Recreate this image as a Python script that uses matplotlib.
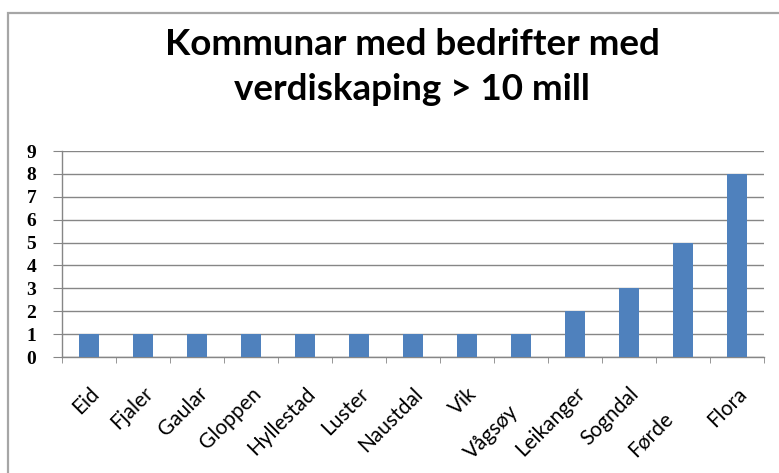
import matplotlib
matplotlib.use("Agg")
import matplotlib.pyplot as plt
import matplotlib.transforms as mtransforms
from matplotlib.patches import Rectangle
import numpy as np

# data
kommunar = ["Eid", "Fjaler", "Gaular", "Gloppen", "Hyllestad", "Luster", "Naustdal",
            "Vik", "Vågsøy", "Leikanger", "Sogndal", "Førde", "Flora"]
bedrifter = [1, 1, 1, 1, 1, 1, 1, 1, 1, 2, 3, 5, 8]
y_ticks = list(range(0, 10))
title_lines = ["Kommunar med bedrifter med", "verdiskaping > 10 mill"]

BAR_COLOR = "#4F81BD"
GRID_COLOR = "#868686"
W, H = 779, 473

fig = plt.figure(figsize=(W / 100, H / 100), dpi=100)
fig.patch.set_facecolor("white")

# outer chart frame (Excel-style)
fig.add_artist(Rectangle((8 / W, -0.05), 1.0, 1 - 13 / H + 0.05, transform=fig.transFigure,
                         fill=False, edgecolor="#A6A6A6", linewidth=1.6))

ax = fig.add_axes([62 / W, 1 - 357 / H, (764 - 62) / W, (357 - 151) / H])
x = np.arange(len(kommunar))
ax.bar(x, bedrifter, width=0.38, color=BAR_COLOR, zorder=3)

ax.set_xlim(-0.5, len(kommunar) - 0.5)
ax.set_ylim(0, 9)
ax.set_yticks(y_ticks)
ax.yaxis.grid(True, color=GRID_COLOR, linewidth=1.0, zorder=0)

for side in ["top", "right"]:
    ax.spines[side].set_visible(False)
for side in ["left", "bottom"]:
    ax.spines[side].set_color(GRID_COLOR)
    ax.spines[side].set_linewidth(1.0)

ax.tick_params(axis="y", direction="out", length=6.5, color=GRID_COLOR, pad=12)
for lab in ax.get_yticklabels():
    lab.set_fontfamily("Liberation Serif")
    lab.set_fontsize(14)
    lab.set_fontweight("bold")

# category ticks at the boundaries, labels at the bar centres
ax.set_xticks(np.arange(-0.5, len(kommunar)), minor=True)
ax.tick_params(axis="x", which="minor", direction="out", length=4.5, color=GRID_COLOR)
ax.set_xticks(x)
ax.set_xticklabels(kommunar, fontfamily="Lato", fontsize=15)
ax.tick_params(axis="x", which="major", length=0, pad=19)
plt.setp(ax.get_xticklabels(), rotation=45, ha="right", rotation_mode="anchor")

# Excel pushed two labels down along their slant
nudge = {"Vågsøy": (-13, -18), "Førde": (-20, -25)}
for lab in ax.get_xticklabels():
    if lab.get_text() in nudge:
        dx, dy = nudge[lab.get_text()]
        lab.set_transform(lab.get_transform() + mtransforms.ScaledTranslation(dx / 100, dy / 100, fig.dpi_scale_trans))

for line, y_px in zip(title_lines, [55, 100]):
    fig.text(412 / W, 1 - y_px / H, line, ha="center", va="baseline",
             fontfamily="Lato", fontweight="bold", fontsize=26.5)

fig.savefig("out.png", dpi=100, facecolor="white")
